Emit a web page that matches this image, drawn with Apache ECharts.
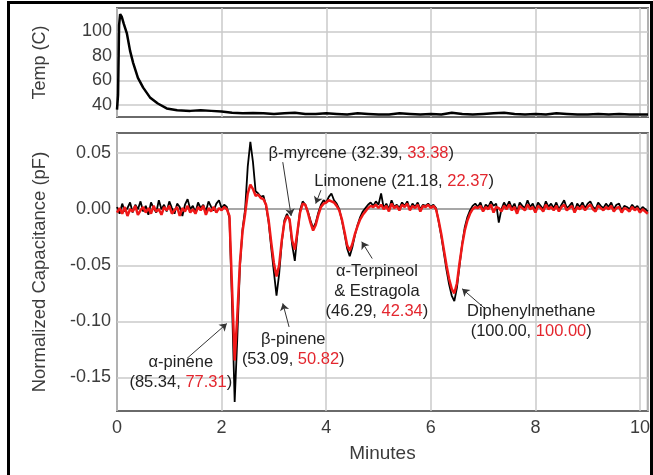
<!DOCTYPE html>
<html><head><meta charset="utf-8">
<script src="https://cdn.jsdelivr.net/npm/echarts@6/dist/echarts.min.js"></script>
<style>html,body{margin:0;padding:0;background:#fff}#c{width:653px;height:475px}</style>
</head><body><div id="c"></div>
<script>
// ---------- DATA ----------
// Temperature trace (minutes, °C)
const tempTime = [0,0.02,0.04,0.06,0.09,0.13,0.19,0.25,0.31,0.4,
  0.5,0.63,0.78,0.95,1.15,1.4,1.6,1.8,2.0,2.2,
  2.4,2.6,2.8,3.0,3.2,3.4,3.6,3.8,4.0,4.2,
  4.4,4.6,4.8,5.0,5.2,5.4,5.6,5.8,6.0,6.2,
  6.4,6.6,6.8,7.0,7.2,7.4,7.6,7.8,8.0,8.2,
  8.4,8.6,8.8,9.0,9.2,9.4,9.6,9.8,10.0,10.15];
const tempValues = [36,48,105,114,112,106,98,84,74,62,
  54,46,41,37,35.5,35,35.5,35,34.5,33.5,
  33,33.3,33,32.5,33,33.5,32.5,32.5,33,32.5,
  32,33,32.5,32,32,33,32.5,32,32.5,32,
  33.5,32.5,32,32.5,33,33.5,32.5,32,32.5,32,
  33,32.5,32,32,32.5,32,32.5,32,32,32];

// Capacitance traces, one sample every 0.05 min from 0 to 10.15 min
const sampleStep = 0.05;
const blackTrace = [
  0.002,-0.004,0.005,-0.002,0.001,0.006,-0.003,0.004,0.000,0.007,
  -0.002,0.003,-0.005,0.006,0.001,-0.003,0.008,0.000,0.004,-0.002,
  0.007,0.001,-0.004,0.005,0.002,-0.006,0.004,0.009,0.000,0.003,
  -0.003,0.006,0.001,0.004,-0.002,0.007,0.002,-0.001,0.005,0.008,
  0.001,0.004,0.002,-0.008,-0.085,-0.172,-0.115,-0.052,-0.018,0.000,
  0.038,0.060,0.042,0.016,0.014,0.011,0.012,0.003,-0.012,-0.035,
  -0.056,-0.077,-0.058,-0.030,-0.010,-0.004,-0.010,-0.032,-0.046,-0.022,
  -0.001,0.007,0.004,-0.002,-0.010,-0.017,-0.012,-0.003,0.004,0.008,
  0.006,0.011,0.014,0.008,0.005,0.000,-0.010,-0.022,-0.035,-0.042,
  -0.034,-0.023,-0.014,-0.007,-0.002,0.001,0.004,0.006,0.003,0.007,
  0.004,0.014,0.001,0.005,0.000,0.008,0.002,0.004,0.001,0.006,
  0.003,0.007,0.000,0.005,0.002,0.006,0.000,0.004,0.003,0.005,
  0.002,0.004,0.001,-0.011,-0.024,-0.039,-0.054,-0.067,-0.077,-0.082,
  -0.070,-0.050,-0.031,-0.016,-0.007,-0.001,0.003,0.005,0.002,0.006,
  -0.001,0.004,0.002,0.007,0.003,0.005,-0.012,0.000,0.006,0.002,
  0.007,0.001,0.005,-0.002,0.006,0.003,0.001,0.008,0.002,0.005,
  -0.001,0.006,0.003,0.000,0.007,0.002,0.005,0.001,0.006,0.000,
  0.004,0.008,0.001,0.003,0.006,-0.002,0.005,0.002,0.006,0.001,
  0.005,0.007,0.002,0.000,0.006,0.003,0.001,0.005,0.002,0.006,
  0.000,0.004,0.005,-0.001,0.003,0.002,0.000,0.004,0.001,0.003,
  -0.001,0.002,0.000,-0.002];
const redTrace = [
  -0.003,0.001,-0.004,0.002,-0.006,0.000,-0.002,0.003,-0.005,-0.001,
  0.002,-0.003,0.001,-0.004,0.003,-0.002,0.000,-0.005,0.002,-0.001,
  0.003,-0.004,-0.001,0.002,-0.006,0.001,-0.002,0.003,-0.003,0.000,
  -0.004,0.002,-0.001,0.003,-0.005,0.001,-0.002,0.002,-0.003,0.001,
  -0.001,0.002,0.000,-0.006,-0.070,-0.135,-0.095,-0.048,-0.020,-0.004,
  0.014,0.022,0.018,0.012,0.013,0.010,0.009,0.004,-0.010,-0.030,
  -0.048,-0.060,-0.050,-0.028,-0.012,-0.006,-0.009,-0.028,-0.036,-0.020,
  -0.003,0.005,0.004,-0.003,-0.012,-0.019,-0.014,-0.005,0.002,0.005,
  0.006,0.008,0.007,0.006,0.003,-0.001,-0.009,-0.020,-0.032,-0.037,
  -0.031,-0.022,-0.015,-0.009,-0.005,-0.002,0.001,0.003,0.002,0.004,
  0.001,0.004,0.000,0.003,-0.002,0.005,0.001,0.003,-0.001,0.004,
  0.002,0.005,-0.001,0.003,0.001,0.004,-0.002,0.003,0.002,0.004,
  0.001,0.003,0.000,-0.010,-0.022,-0.036,-0.050,-0.062,-0.071,-0.075,
  -0.066,-0.048,-0.032,-0.019,-0.010,-0.004,0.000,0.002,0.001,0.003,
  -0.002,0.002,0.000,0.004,-0.003,0.002,0.001,-0.002,0.003,0.000,
  0.004,-0.001,0.002,-0.004,0.003,0.001,-0.001,0.004,0.000,0.002,
  -0.003,0.003,0.001,-0.002,0.004,0.000,0.002,-0.001,0.003,-0.002,
  0.002,0.004,-0.001,0.001,0.003,-0.003,0.002,0.000,0.003,-0.001,
  0.002,0.004,0.000,-0.002,0.003,0.001,-0.001,0.002,0.000,0.003,
  -0.002,0.001,0.002,-0.003,0.001,0.000,-0.002,0.002,-0.001,0.001,
  -0.003,0.000,-0.002,-0.004];

// Tick labels
const tempTicks = [40,60,80,100];
const capTicks = [-0.15,-0.10,-0.05,0,0.05];

// Peak annotations: name lines, black value, red value
const peakNames  = [['β-myrcene'], ['Limonene'], ['α-Terpineol','& Estragola'], ['Diphenylmethane'], ['β-pinene'], ['α-pinene']];
const peakBlack  = ['32.39','21.18','46.29','100.00','53.09','85.34'];
const peakRed    = ['33.38','22.37','42.34','100.00','50.82','77.31'];
const peakInline = [true, true, false, false, false, false];
// label anchor [min, pF]; arrow start and tip [min, pF]
const labelAt   = [[4.67,0.050],[5.49,0.025],[4.97,-0.0737],[7.92,-0.1004],[3.37,-0.125],[1.22,-0.146]];
const arrowFrom = [[3.17,0.042],[3.90,0.017],[4.88,-0.044],[7.02,-0.088],[3.29,-0.105],[1.34,-0.133]];
const arrowTo   = [[3.33,-0.006],[3.80,0.005],[4.68,-0.029],[6.60,-0.071],[3.17,-0.084],[2.10,-0.102]];

// ---------- CHART ----------
const FONT = "'Liberation Sans', Arial, sans-serif";
const TXT = '#3c3c3c';
const RED_TXT = '#e3262e';

const tempData = tempTime.map((t, i) => [t, tempValues[i]]);
const blackData = blackTrace.map((v, i) => [+(i * sampleStep).toFixed(2), v]);
const redData = redTrace.map((v, i) => [+(i * sampleStep).toFixed(2), v]);

const markPoints = peakNames.map((lines, i) => {
  let txt;
  const vals = '{k|(' + peakBlack[i] + ', }{r|' + peakRed[i] + '}{k|)}';
  if (peakInline[i]) txt = '{k|' + lines[0] + ' (' + peakBlack[i] + ', }{r|' + peakRed[i] + '}{k|)}';
  else txt = lines.map(l => '{k|' + l + '}').join('\n') + '\n' + vals;
  return {coord: labelAt[i], value: txt};
});
const markLines = arrowFrom.map((f, i) => [{coord: f}, {coord: arrowTo[i]}]);

const gridLine = {color: '#cacaca', width: 1.5};
const chart = echarts.init(document.getElementById('c'), null, {renderer: 'canvas'});
chart.setOption({
  animation: false,
  backgroundColor: '#fff',
  textStyle: {fontFamily: FONT},
  grid: [
    {left: 117, top: 8, width: 531, height: 109, show: true, borderColor: '#6a6a6a', borderWidth: 2, backgroundColor: '#fff'},
    {left: 117, top: 133, width: 531, height: 278, show: true, borderColor: '#6a6a6a', borderWidth: 2, backgroundColor: '#fff'}
  ],
  xAxis: [
    {gridIndex: 0, type: 'value', min: 0, max: 10.15, interval: 2,
     axisLabel: {show: false}, axisTick: {show: false}, axisLine: {show: false},
     splitLine: {show: true, lineStyle: gridLine}},
    {gridIndex: 1, type: 'value', min: 0, max: 10.15, interval: 2,
     axisLabel: {show: true, fontSize: 18, color: TXT, margin: 8, showMaxLabel: false, fontFamily: FONT},
     axisTick: {show: false}, axisLine: {show: false},
     splitLine: {show: true, lineStyle: gridLine},
     name: 'Minutes', nameLocation: 'middle', nameGap: 33,
     nameTextStyle: {fontSize: 19, color: TXT, fontFamily: FONT}}
  ],
  yAxis: [
    {gridIndex: 0, type: 'value', min: 30, max: 119,
     axisLabel: {customValues: tempTicks, fontSize: 18, color: TXT, margin: 5, fontFamily: FONT},
     axisTick: {show: false, customValues: tempTicks}, axisLine: {show: false},
     splitLine: {show: true, lineStyle: gridLine},
     name: 'Temp (C)', nameLocation: 'middle', nameGap: 68, nameRotate: 90,
     nameTextStyle: {fontSize: 18, color: TXT, fontFamily: FONT}},
    {gridIndex: 1, type: 'value', min: -0.18, max: 0.068,
     axisLabel: {customValues: capTicks, fontSize: 18, color: TXT, margin: 6, fontFamily: FONT,
       formatter: v => v.toFixed(2)},
     axisTick: {show: false, customValues: capTicks}, axisLine: {show: false},
     splitLine: {show: true, lineStyle: {color: ['#cacaca','#cacaca','#cacaca','#8a8a8a','#cacaca'], width: 1.5}},
     name: 'Normalized Capacitance (pF)', nameLocation: 'middle', nameGap: 68, nameRotate: 90,
     nameTextStyle: {fontSize: 18.5, color: TXT, fontFamily: FONT}}
  ],
  series: [
    {type: 'line', xAxisIndex: 0, yAxisIndex: 0, data: tempData, showSymbol: false,
     lineStyle: {color: '#000', width: 2.5}, z: 3},
    {type: 'line', xAxisIndex: 1, yAxisIndex: 1, data: blackData, showSymbol: false,
     lineStyle: {color: '#000', width: 1.8}, z: 3},
    {type: 'line', xAxisIndex: 1, yAxisIndex: 1, data: redData, showSymbol: false,
     lineStyle: {color: '#f01818', width: 2.5}, z: 4,
     markLine: {silent: true, symbol: ['none', 'arrow'], symbolSize: 7, animation: false,
       lineStyle: {color: '#333', width: 1, type: 'solid'}, label: {show: false},
       emphasis: {disabled: true}, data: markLines},
     markPoint: {silent: true, symbol: 'circle', symbolSize: 0, animation: false,
       label: {show: true, position: 'inside', formatter: p => p.value, align: 'center',
         rich: {k: {fontSize: 16.5, color: '#222', fontFamily: FONT, lineHeight: 20},
                r: {fontSize: 16.5, color: RED_TXT, fontFamily: FONT, lineHeight: 20}}},
       data: markPoints}}
  ],
  graphic: [
    {type: 'rect', shape: {x: 7, y: 1, width: 3, height: 474}, style: {fill: '#000'}, silent: true},
    {type: 'rect', shape: {x: 7, y: 1, width: 646, height: 3}, style: {fill: '#000'}, silent: true},
    {type: 'rect', shape: {x: 650, y: 1, width: 3, height: 474}, style: {fill: '#000'}, silent: true}
  ]
});
</script></body></html>
